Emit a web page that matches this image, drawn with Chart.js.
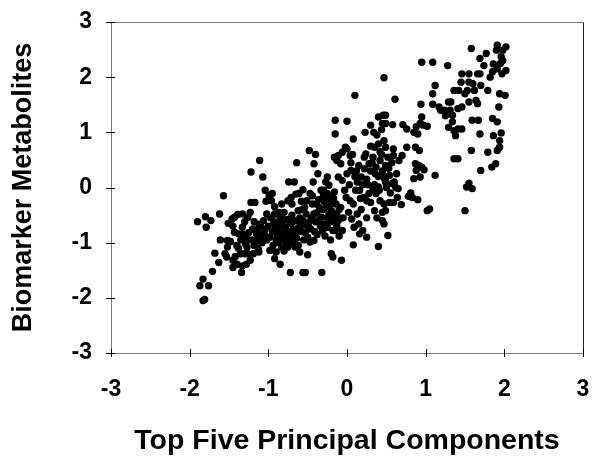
<!DOCTYPE html>
<html>
<head>
<meta charset="utf-8">
<script src="https://cdn.jsdelivr.net/npm/chart.js@4/dist/chart.umd.min.js"></script>
<style>
  html, body { margin: 0; padding: 0; background: #fff; }
  #wrap { width: 593px; height: 460px; }
</style>
</head>
<body>
<div id="wrap"><canvas id="c" width="593" height="460"></canvas></div>
<script>
// ---- data ----
const xTitle = 'Top Five Principal Components';
const yTitle = 'Biomarker Metabolites';
const tickValues = [-3, -2, -1, 0, 1, 2, 3];

const xValues = [
  -1.90,-1.80,-1.79,-1.73,-1.57,-1.62,-1.61,-1.87,-1.83,-1.76,-1.83,-1.81,-1.71,-1.68,-1.63,-1.52,-1.53,-1.51,-1.46,-1.43,
  -1.39,-1.33,-1.26,-1.23,-1.22,-1.17,-1.22,-1.11,-1.07,-1.52,-1.43,-1.38,-1.33,-1.45,-1.45,-1.40,-1.34,-1.33,-1.28,-1.23,
  -1.26,-1.19,-1.12,-1.35,-1.29,-1.28,-1.14,-1.09,-1.16,-1.10,-1.04,-1.02,-1.03,-1.04,-0.99,-0.96,-0.95,-0.98,-0.92,-0.90,
  -0.85,-0.83,-0.85,-0.87,-0.92,-0.83,-0.75,-0.71,-0.74,-0.67,-0.64,-0.72,-0.56,-0.53,-0.50,-0.60,-0.66,-0.75,-0.78,-0.71,
  -0.66,-0.61,-0.56,-0.54,-0.51,-0.56,-0.61,-0.47,-0.44,-0.42,-0.42,-0.47,-0.48,-0.40,-0.42,-0.37,-0.43,-0.32,-0.31,-0.27,
  -0.32,-0.35,-0.27,-0.25,-0.30,-0.27,-0.23,-0.25,-0.20,-0.23,-0.20,-0.18,-0.21,-0.20,-0.18,-0.07,-0.15,-0.15,0.00,-0.16,
  -0.13,-0.11,-0.08,-0.06,-0.02,0.00,0.04,0.08,0.10,-0.11,-0.06,-0.03,-0.01,0.00,0.05,0.04,-0.08,-0.13,-0.11,-0.15,
  -0.06,-0.10,0.06,0.09,0.13,0.16,0.15,0.08,0.20,0.25,0.21,0.16,0.13,0.18,0.11,0.22,0.28,0.24,0.23,0.30,
  0.34,0.40,0.46,0.47,0.45,0.49,0.49,0.61,0.58,0.71,0.76,0.35,0.40,0.47,0.49,0.59,0.33,0.37,0.42,0.49,
  0.59,0.66,0.70,0.63,0.54,0.47,0.49,0.40,0.33,0.28,0.25,0.30,0.35,0.37,0.42,0.47,0.54,0.59,0.49,0.45,
  0.47,0.52,0.40,0.69,0.64,0.65,0.57,0.78,0.76,0.81,0.83,0.88,0.93,0.90,0.85,1.02,0.97,0.87,0.92,0.87,
  0.91,0.95,0.88,0.98,0.85,0.93,0.90,1.02,1.05,1.12,0.94,0.95,0.95,1.09,1.12,1.09,1.09,1.17,1.19,1.24,
  1.28,1.29,1.31,1.34,1.29,1.34,1.36,1.42,1.45,1.36,1.38,1.41,1.46,1.41,1.46,1.36,1.41,1.50,1.52,1.55,
  1.59,1.46,1.55,1.58,1.60,1.55,1.53,1.62,1.66,1.69,1.55,1.64,1.66,1.59,1.67,1.69,1.58,1.70,1.77,1.69,
  1.74,1.82,1.79,1.86,1.91,1.90,1.96,1.98,1.98,2.02,2.02,1.97,1.91,1.85,1.91,1.93,1.94,2.01,1.96,1.94,
  1.94,1.91,1.79,1.86,1.84,1.89,
  -1.05,-1.00,-0.98,-0.95,-0.93,-0.90,-0.88,-0.85,-0.82,-0.80,-0.78,-0.76,-0.74,-0.72,-0.70,-0.68,-0.66,-0.64,-0.62,-0.60,
  -0.58,-0.55,-0.52,-0.50,-0.48,-0.46,-0.44,-0.40,-0.38,-0.36,-0.34,-0.33,-0.30,-0.28,-0.26,-0.24,-0.22,-0.20,-0.18,-0.16,
  -0.14,-0.12,-1.10,-1.12,-1.15,-1.20,-1.25,-1.30,-1.35,-1.40,-1.48,-1.55,-1.42,-1.30,-1.18,-0.87,-0.80,-0.70,-0.62,-0.55,
  -0.92,-0.80,-0.70,-0.65,-0.58,-0.38,-0.30,
  0.05,0.10,0.15,0.20,0.25,0.30,0.35,0.40,0.45,0.50,0.55,0.60,0.30,0.42,0.52,0.02,0.08,0.18,0.25,0.38,0.45,
  -1.45,-1.38,-1.32,-1.27,-1.22,-1.18,-1.13,-1.08,-1.06,-1.02,-0.97,-0.94,-0.91,-0.89,-0.86,-0.84,-0.81,-0.79,-0.77,-0.73,
  -0.69,-0.67,-0.63,-0.59,-0.57,-0.53,-0.49,-0.45,-0.41,-0.39,-0.35,-0.31,-0.29,-0.25,-0.23,-0.19,-0.17,-0.13,-0.10,-0.05,
  0.03,0.07,0.12,0.17,0.22,0.27,0.32,0.36,0.41,0.44,0.48,0.53,0.57,0.62,0.44,0.38,
  1.25,1.32,1.50,1.70,1.85,1.95
];

const yValues = [
  -0.62,-0.53,-0.72,-0.60,-0.15,-0.48,-0.95,-1.78,-1.66,-1.78,-2.05,-2.03,-1.52,-1.19,-1.36,-1.08,-1.26,-0.65,-0.57,-0.54,
  -0.49,-0.48,-0.54,-0.45,-0.27,-0.27,0.28,0.49,0.19,-0.96,-0.81,-0.84,-0.72,-1.32,-1.45,-1.39,-1.54,-1.42,-1.39,-1.32,
  -1.20,-1.20,-1.17,-1.20,-1.02,-0.93,-0.96,-0.84,-0.78,-0.66,-0.75,-0.48,-0.25,-0.05,-0.15,-0.24,-0.11,-1.14,-1.29,-1.17,
  -1.39,-1.08,-0.84,-0.66,-0.48,-0.30,-0.24,-0.18,0.10,0.10,0.45,-1.54,-1.54,-1.54,-1.22,-1.17,-1.08,-1.08,-0.96,-0.90,
  -0.84,-0.72,-0.60,-0.36,-0.24,-0.04,-0.11,-0.11,-0.30,-0.48,-0.96,-0.99,0.67,0.60,0.43,0.25,0.10,-1.54,-0.78,-0.66,
  -0.54,-0.36,-0.24,-0.11,-0.05,0.10,0.04,0.19,-0.30,-0.48,-0.60,-0.78,-0.95,-1.20,-1.26,-1.32,0.97,1.22,1.20,0.55,
  0.49,0.58,0.43,0.64,0.73,0.70,0.58,0.88,1.67,0.19,0.13,-0.05,-0.18,0.25,0.31,-0.24,-0.36,-0.48,-0.60,-0.78,
  -0.78,-0.88,-0.57,-0.72,-0.48,-0.84,-0.66,-1.04,-0.78,-0.90,-0.18,-0.05,0.10,0.19,-0.05,0.34,0.43,0.61,1.00,1.13,
  1.00,1.28,1.31,1.99,1.16,1.31,1.16,1.60,1.14,1.14,1.06,0.73,0.79,0.85,0.73,0.70,0.55,0.37,0.49,0.40,
  0.58,0.49,0.58,0.25,0.22,0.19,0.10,0.01,-0.05,-0.11,-0.24,-0.27,-0.42,-0.11,-0.24,-0.30,-0.27,-0.27,-0.42,-0.60,
  -0.66,-0.87,-1.07,-0.31,-0.18,-0.02,0.07,-0.16,0.73,-0.10,-0.18,1.10,1.16,0.97,1.00,1.11,1.13,0.73,0.67,0.43,
  0.40,0.37,0.31,0.32,0.16,0.19,-0.22,-0.42,-0.39,0.22,1.51,1.28,2.27,2.27,1.85,1.70,1.51,1.46,1.40,1.40,
  2.21,1.55,1.40,1.31,1.09,1.19,1.76,1.76,1.91,1.03,0.94,1.06,1.06,1.43,1.46,0.52,0.52,-0.42,0.01,0.08,
  -0.02,2.06,2.06,2.52,1.88,1.91,1.76,1.76,2.06,2.06,1.55,1.58,1.52,1.22,1.22,0.97,0.67,0.31,2.43,2.34,
  2.21,2.00,1.76,2.24,2.58,2.49,2.37,2.49,2.30,2.55,2.12,2.06,2.15,1.25,1.19,1.46,1.70,1.67,0.99,0.85,
  0.73,0.67,0.64,0.94,0.37,0.43,
  -0.85,-0.70,-0.90,-0.80,-0.62,-0.95,-0.75,-0.55,-0.68,-0.85,-0.72,-0.58,-0.80,-0.65,-0.50,-0.75,-0.60,-0.92,-0.42,-0.55,
  -0.80,-0.68,-0.48,-0.90,-0.62,-0.75,-0.15,-0.62,-0.85,-0.22,-0.70,-0.05,-0.40,-0.88,-0.30,-0.55,-0.18,-0.42,-0.62,-0.08,
  -0.30,-0.55,-0.90,-0.72,-0.85,-0.75,-0.82,-0.62,-0.95,-1.05,-0.98,-1.20,-1.25,-1.20,-1.05,-1.00,-1.15,-1.00,-1.05,-0.95,
  -0.35,-0.45,-0.30,-0.12,-0.25,-0.45,-0.15,
  0.45,0.20,0.40,0.05,0.15,0.30,0.05,0.20,0.30,0.00,-0.10,0.10,0.75,0.65,0.55,-0.45,-0.30,-0.40,-0.55,-0.55,-0.45,
  -0.70,-1.10,-0.85,-1.08,-0.95,-0.62,-1.10,-1.00,-0.60,-0.95,-0.55,-1.05,-0.70,-0.85,-0.45,-0.95,-0.58,-0.78,-1.02,-0.88,
  -0.62,-0.95,-0.75,-0.65,-0.40,-0.82,-0.72,-0.55,-0.80,-0.30,-0.58,-0.68,-0.25,-0.72,-0.35,-0.52,-0.20,-0.70,-0.40,-0.55,
  0.05,0.60,0.30,-0.20,0.55,0.05,0.45,0.25,-0.05,0.60,0.15,0.35,0.45,0.00,1.05,0.95,
  1.30,1.55,1.70,1.85,2.10,2.25
];

const points = xValues.map((x, i) => ({ x: x, y: yValues[i] }));

const FONT = '"Liberation Sans", Arial, Helvetica, sans-serif';

// frame and crossing tick marks drawn with the scales' own pixel mapping
const framePlugin = {
  id: 'frame',
  beforeDatasetsDraw(chart) {
    const { ctx, chartArea: a, scales } = chart;
    ctx.save();
    ctx.lineWidth = 1;
    ctx.strokeStyle = '#7a7a7a';
    ctx.beginPath();
    ctx.moveTo(a.left + 0.5, a.bottom + 0.5);
    ctx.lineTo(a.left + 0.5, a.top + 0.5);
    ctx.lineTo(a.right + 0.5, a.top + 0.5);
    ctx.moveTo(a.left + 0.5, a.bottom + 0.5);
    ctx.lineTo(a.right + 0.5, a.bottom + 0.5);
    ctx.stroke();
    ctx.strokeStyle = '#222';
    ctx.beginPath();
    ctx.moveTo(a.right + 0.5, a.top + 0.5);
    ctx.lineTo(a.right + 0.5, a.bottom + 0.5);
    ctx.stroke();
    ctx.strokeStyle = '#000';
    ctx.beginPath();
    tickValues.forEach(v => {
      const px = Math.round(scales.x.getPixelForValue(v)) + 0.5;
      ctx.moveTo(px, a.bottom - 4);
      ctx.lineTo(px, a.bottom + 4);
      const py = Math.round(scales.y.getPixelForValue(v)) + 0.5;
      ctx.moveTo(a.left - 5, py);
      ctx.lineTo(a.left + 4, py);
    });
    ctx.stroke();
    ctx.restore();
  }
};

new Chart(document.getElementById('c'), {
  type: 'scatter',
  data: {
    datasets: [{
      data: points,
      backgroundColor: '#000',
      borderWidth: 0,
      pointRadius: 3.7,
      pointHoverRadius: 3.7
    }]
  },
  options: {
    responsive: false,
    animation: false,
    events: [],
    layout: { padding: { top: 22, right: 10, left: 0, bottom: 0 } },
    plugins: { legend: { display: false }, tooltip: { enabled: false } },
    scales: {
      x: {
        type: 'linear',
        min: -3, max: 3,
        afterBuildTicks: s => { s.ticks = tickValues.map(v => ({ value: v })); },
        afterFit: s => { s.height = 107; s.paddingLeft = 0; s.paddingRight = 0; },
        grid: { display: false, drawTicks: false },
        border: { display: false },
        ticks: {
          padding: 23,
          color: '#000',
          font: { family: FONT, size: 23, weight: 'bold' },
          callback: v => String(v)
        },
        title: {
          display: true,
          text: xTitle,
          color: '#000',
          font: { family: FONT, size: 28.5, weight: 'bold' },
          padding: { top: 0, bottom: 2 }
        }
      },
      y: {
        type: 'linear',
        min: -3, max: 3,
        afterBuildTicks: s => { s.ticks = tickValues.map(v => ({ value: v })); },
        afterFit: s => { s.width = 111; s.paddingTop = 0; s.paddingBottom = 0; },
        grid: { display: false, drawTicks: false },
        border: { display: false },
        ticks: {
          padding: 19,
          color: '#000',
          font: { family: FONT, size: 23, weight: 'bold' },
          callback: v => String(v)
        },
        title: {
          display: true,
          text: yTitle,
          color: '#000',
          font: { family: FONT, size: 27, weight: 'bold' },
          padding: { top: 7, bottom: 0 }
        }
      }
    }
  },
  plugins: [framePlugin]
});
</script>
</body>
</html>
